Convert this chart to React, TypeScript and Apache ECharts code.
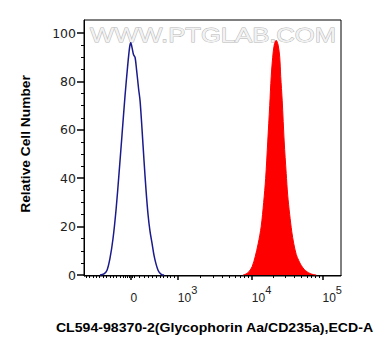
import React, { useEffect, useRef } from "react";
import * as echarts from "echarts";

// x values are in display units of the biexponential axis (decades: 10^4 -> 4)
const blueX = [1.863, 1.919, 1.962, 2.004, 2.046, 2.089, 2.131, 2.173, 2.215, 2.251, 2.279, 2.296, 2.314, 2.335, 2.356, 2.377, 2.406, 2.427, 2.455, 2.483, 2.511, 2.539, 2.567, 2.596, 2.624, 2.652, 2.680, 2.708, 2.737, 2.765];
const blueY = [0, 0.5, 2, 7, 15, 27, 42, 58, 74, 86, 94, 96, 94, 91, 90, 85, 77, 72, 60, 47, 35, 25, 18, 13, 8, 4.5, 2, 0.7, 0.1, 0];

const redX = [3.877, 3.920, 3.962, 4.004, 4.046, 4.089, 4.131, 4.166, 4.194, 4.223, 4.251, 4.272, 4.293, 4.314, 4.342, 4.370, 4.392, 4.406, 4.427, 4.455, 4.483, 4.504, 4.532, 4.561, 4.589, 4.624, 4.659, 4.694, 4.737, 4.779, 4.821, 4.863, 4.906];
const redY = [0, 0.5, 1.5, 3.5, 7.5, 13, 20, 30, 40, 55, 70, 82, 90, 95, 97, 95, 90, 82, 72, 55, 42, 33, 25, 18, 13, 8.5, 6, 4, 2.3, 1.3, 0.6, 0.2, 0];

const xMajorTicks = [2.293, 2.958, 4, 4.994];
const xTickLabels = ["0", "10^3", "10^4", "10^5"];
const xMinorTicksLinear = [1.665, 1.714, 1.762, 1.810, 1.858, 1.906, 1.953, 2.001, 2.049, 2.097, 2.145, 2.187, 2.215, 2.244, 2.272, 2.321, 2.349, 2.420, 2.483, 2.539, 2.596, 2.652, 2.708, 2.758, 2.807, 2.856, 2.906];
const logMultipliers = [2, 3, 4, 5, 6, 7, 8, 9];

const yMajorTicks = [0, 20, 40, 60, 80, 100];
const yMinorTicks = [5, 10, 15, 25, 30, 35, 45, 50, 55, 65, 70, 75, 85, 90, 95];

const xTitle = "CL594-98370-2(Glycophorin Aa/CD235a),ECD-A";
const yTitle = "Relative Cell Number";
const watermark = "WWW.PTGLAB.COM";

export default function App() {
  const ref = useRef<HTMLDivElement>(null);
  useEffect(() => {
    if (!ref.current) return;
    const chart = echarts.init(ref.current, undefined, { renderer: "svg" });
    const xMin = 1.638;
    const xMax = 5.254;
    const minorX = [
      ...xMinorTicksLinear,
      ...logMultipliers.map((k) => xMajorTicks[1] + (xMajorTicks[2] - xMajorTicks[1]) * Math.log10(k)),
      ...logMultipliers.map((k) => xMajorTicks[2] + (xMajorTicks[3] - xMajorTicks[2]) * Math.log10(k)),
    ];
    const fmt = (v: number) => {
      let best = 0;
      xMajorTicks.forEach((t, i) => {
        if (Math.abs(t - v) < Math.abs(xMajorTicks[best] - v)) best = i;
      });
      const lab = xTickLabels[best];
      const parts = lab.split("^");
      if (parts.length === 2) return `{b|${parts[0]}}{s|${parts[1]}}`;
      return `{b|${lab}}`;
    };
    chart.setOption({
      animation: false,
      grid: { left: 84, top: 20, right: 50, bottom: 80, show: true, borderColor: "#000", borderWidth: 1 },
      xAxis: [
        {
          type: "value",
          min: xMin,
          max: xMax,
          position: "bottom",
          splitLine: { show: false },
          axisLine: { show: true, lineStyle: { color: "#000", width: 1 } },
          axisTick: { show: true, customValues: xMajorTicks, length: 5, lineStyle: { color: "#000", width: 1.5 } },
          axisLabel: {
            show: true,
            customValues: xMajorTicks,
            formatter: fmt,
            align: "left",
            margin: 8,
            color: "#222",
            fontFamily: "Liberation Sans, Arial",
            rich: {
              b: { fontSize: 12, lineHeight: 20, verticalAlign: "bottom", color: "#222", fontFamily: "Liberation Sans, Arial" },
              s: { fontSize: 11, lineHeight: 11, verticalAlign: "top", color: "#222", fontFamily: "Liberation Sans, Arial" },
            },
          },
        },
        {
          type: "value",
          min: xMin,
          max: xMax,
          position: "bottom",
          splitLine: { show: false },
          axisLine: { show: false },
          axisLabel: { show: false },
          axisTick: { show: true, customValues: minorX, length: 3, lineStyle: { color: "#000", width: 1 } },
        },
      ],
      yAxis: [
        {
          type: "value",
          min: -0.4,
          max: 105.4,
          splitLine: { show: false },
          axisLine: { show: true, lineStyle: { color: "#000", width: 1 } },
          axisTick: { show: true, customValues: yMajorTicks, length: 7, lineStyle: { color: "#000", width: 1.5 } },
          axisLabel: {
            customValues: yMajorTicks,
            margin: 8,
            color: "#222",
            fontSize: 12.5,
            fontFamily: "DejaVu Sans",
          },
        },
        {
          type: "value",
          min: -0.4,
          max: 105.4,
          position: "left",
          splitLine: { show: false },
          axisLine: { show: false },
          axisLabel: { show: false },
          axisTick: { show: true, customValues: yMinorTicks, length: 3, lineStyle: { color: "#000", width: 1 } },
        },
      ],
      graphic: [
        {
          type: "text",
          x: 90,
          y: 24,
          scaleX: 1.22,
          z: 1,
          style: {
            text: watermark,
            font: "21px Liberation Sans, Arial",
            fill: "#f2f2f2",
            stroke: "#b5b5b5",
            lineWidth: 0.9,
          },
        },
        {
          type: "text",
          x: 26,
          y: 144,
          rotation: Math.PI / 2,
          scaleX: 1.06,
          style: {
            text: yTitle,
            font: "bold 13px Liberation Sans, Arial",
            fill: "#000",
            align: "center",
            verticalAlign: "middle",
          },
        },
        {
          type: "text",
          x: 214.5,
          y: 328,
          scaleX: 1.13,
          style: {
            text: xTitle,
            font: "bold 12.5px Liberation Sans, Arial",
            fill: "#000",
            align: "center",
            verticalAlign: "middle",
          },
        },
      ],
      series: [
        {
          type: "line",
          xAxisIndex: 0,
          yAxisIndex: 0,
          data: redX.map((x, i) => [x, redY[i]]),
          symbol: "none",
          smooth: 0.3,
          lineStyle: { color: "#ff0000", width: 1 },
          areaStyle: { color: "#ff0000", opacity: 1 },
          z: 3,
        },
        {
          type: "line",
          xAxisIndex: 0,
          yAxisIndex: 0,
          data: blueX.map((x, i) => [x, blueY[i]]),
          symbol: "none",
          smooth: 0.3,
          lineStyle: { color: "#1a1a8c", width: 1.5 },
          z: 4,
        },
      ],
    });
    return () => chart.dispose();
  }, []);
  return <div ref={ref} style={{ width: 391, height: 356, margin: -8 }} />;
}
